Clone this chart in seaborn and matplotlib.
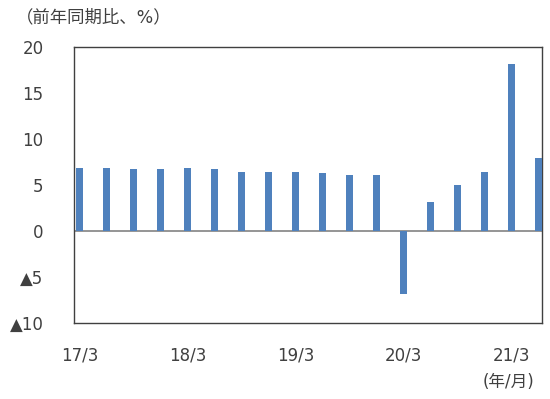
import matplotlib
matplotlib.use("Agg")
import matplotlib.pyplot as plt
import pandas as pd
import seaborn as sns

# 四半期ラベル（17/3 ～ 21/6）
quarters = ["17/3", "17/6", "17/9", "17/12",
            "18/3", "18/6", "18/9", "18/12",
            "19/3", "19/6", "19/9", "19/12",
            "20/3", "20/6", "20/9", "20/12",
            "21/3", "21/6"]
# 前年同期比（%）
values = [6.8, 6.8, 6.7, 6.7,
          6.8, 6.7, 6.45, 6.45,
          6.4, 6.27, 6.1, 6.1,
          -6.8, 3.2, 5.0, 6.4,
          18.2, 7.9]

tick_labels = ["17/3", "18/3", "19/3", "20/3", "21/3"]
y_ticks = [20, 15, 10, 5, 0, -5, -10]
y_tick_labels = ["20", "15", "10", "5", "0", "▲5", "▲10"]

BAR_COLOR = "#4F81BD"
TEXT_COLOR = "#404040"

sns.set_theme(style="white")
plt.rcParams["font.family"] = ["DejaVu Sans", "Noto Sans CJK JP"]

df = pd.DataFrame({"quarter": quarters, "value": values})

fig = plt.figure(figsize=(5.5, 3.99), dpi=100)
ax = fig.add_axes([0.1345, 0.1905, 0.851, 0.6917])

ax.axhline(0, color="#8c8c8c", linewidth=1.3, zorder=2)

sns.barplot(data=df, x="quarter", y="value", order=quarters,
            color=BAR_COLOR, width=0.27, saturation=1, linewidth=0,
            edgecolor="none", ax=ax, zorder=3)

ax.set_xlim(-0.2, 17.13)
ax.set_ylim(-10, 20)
ax.set_yticks(y_ticks)
ax.set_yticklabels(y_tick_labels)
ax.set_xticks([quarters.index(t) for t in tick_labels])
ax.set_xticklabels(tick_labels)
ax.tick_params(axis="y", length=0, pad=22, labelsize=12, labelcolor=TEXT_COLOR)
ax.tick_params(axis="x", length=0, pad=17, labelsize=12, labelcolor=TEXT_COLOR)
ax.set_xlabel("")
ax.set_ylabel("")
ax.grid(False)

for side in ["left", "right", "top", "bottom"]:
    ax.spines[side].set_visible(True)
    ax.spines[side].set_color("#404040")
    ax.spines[side].set_linewidth(1.0)

fig.text(16 / 550, 1 - 17 / 399, "（前年同期比、%）", fontsize=12.5,
         color=TEXT_COLOR, ha="left", va="center")
fig.text(508 / 550, 1 - 382 / 399, "(年/月)", fontsize=12,
         color=TEXT_COLOR, ha="center", va="center")

fig.savefig("out.png", dpi=100)
